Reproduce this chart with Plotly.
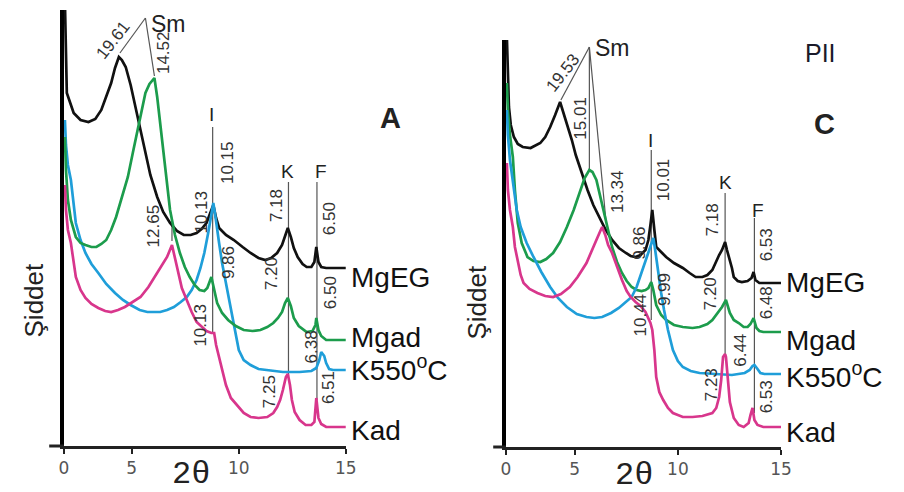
import plotly.graph_objects as go

# ---------------- data (2-theta in degrees, intensity in arbitrary units, stacked) ----------------
# Panel A
A_MgEG_x = [1.88,1.93,1.97,2.29,2.61,2.98,3.30,3.58,3.81,4.04,4.22,4.40,4.54,4.72,4.95,5.14,5.37,5.60,5.87,6.19,
            6.47,6.79,7.11,7.43,7.75,8.03,8.26,8.49,8.67,8.81,8.94,9.08,9.40,9.77,10.18,10.55,10.92,11.24,11.51,11.79,
            12.02,12.16,12.29,12.43,12.57,12.75,12.98,13.17,13.39,13.53,13.62,13.72,13.85,14.08,15.0]
A_MgEG_y = [445,386,353,333,326,324,327,336,349,363,378,389,386,379,361,343,321,296,271,249,
            234,223,215,211,211,213,217,223,233,241,228,218,211,206,199,193,188,186,188,193,
            201,209,218,209,198,189,182,179,179,184,199,184,179,178,178]

A_Mgad_x = [1.88,1.93,2.02,2.16,2.39,2.61,2.84,3.12,3.35,3.58,3.81,4.04,4.27,4.54,4.82,5.05,5.28,5.46,5.64,5.83,
            6.06,6.19,6.33,6.51,6.65,6.79,7.02,7.25,7.48,7.71,7.94,8.17,8.39,8.53,8.72,8.85,8.99,9.22,9.50,9.86,
            10.23,10.64,11.01,11.33,11.61,11.83,12.02,12.16,12.29,12.43,12.57,12.80,13.17,13.44,13.58,13.62,13.72,13.85,14.08,15.0]
A_Mgad_y = [309,276,246,226,209,203,201,199,199,202,206,216,229,248,269,293,316,336,353,362,
            368,349,321,286,259,236,211,193,179,169,161,156,155,158,169,156,143,133,126,120,
            116,115,116,119,123,128,134,143,148,140,128,120,114,115,121,128,116,110,106,106]

A_K550_x = [1.88,1.93,2.02,2.16,2.39,2.61,2.84,3.12,3.44,3.81,4.22,4.59,4.95,5.37,5.73,6.06,6.33,6.65,6.97,7.29,
            7.57,7.80,8.03,8.21,8.39,8.58,8.72,8.81,8.90,8.99,9.08,9.22,9.40,9.54,9.72,9.86,10.0,10.23,10.55,10.92,
            11.33,12.06,12.84,13.39,13.62,13.76,13.85,13.99,14.08,14.22,14.40,15.0]
A_K550_y = [326,301,281,266,223,206,193,182,173,162,153,146,141,136,134,134,134,136,139,144,
            149,156,166,178,193,214,233,243,231,214,203,183,163,144,126,110,96,86,81,77,
            76,74,74,75,78,86,94,90,83,77,76,76]

A_Kad_x = [1.88,1.93,2.02,2.16,2.39,2.61,2.84,3.12,3.44,3.76,4.04,4.36,4.68,5.05,5.41,5.78,6.19,6.42,6.65,6.88,
           7.02,7.16,7.34,7.57,7.80,8.03,8.26,8.49,8.72,8.85,8.94,9.08,9.22,9.40,9.63,9.95,10.23,10.55,10.92,11.33,
           11.61,11.79,11.93,12.06,12.20,12.29,12.39,12.48,12.61,12.84,13.12,13.39,13.53,13.62,13.72,13.85,14.08,15.0]
A_Kad_y = [261,236,216,203,169,156,148,142,138,135,134,136,139,144,149,159,173,181,189,201,
           188,174,158,146,134,124,119,115,113,113,101,89,74,61,48,40,33,29,28,29,
           33,39,46,56,69,72,61,46,34,26,21,21,24,48,28,22,19,19]

# Panel C
C_MgEG_x = [1.71,1.76,1.81,1.90,2.05,2.24,2.48,2.86,3.33,3.57,3.81,4.05,4.29,4.38,4.52,4.71,4.86,5.05,5.24,5.43,
            5.62,5.90,6.19,6.48,6.81,7.14,7.48,7.71,7.95,8.19,8.43,8.57,8.67,8.76,8.86,8.95,9.19,9.43,9.81,10.24,
            10.57,10.86,11.19,11.43,11.67,11.81,12.0,12.14,12.29,12.38,12.48,12.62,12.71,12.90,13.10,13.38,13.57,13.67,13.76,13.95,
            14.19,15.0]
C_MgEG_y = [410,372,340,322,310,303,300,299,304,310,320,332,345,339,330,317,307,292,280,267,
            257,242,230,218,207,199,194,191,190,192,197,207,222,237,217,200,195,190,184,179,
            174,170,170,172,177,184,192,197,205,197,190,179,170,166,165,166,169,175,167,164,
            164,164]

C_Mgad_x = [1.71,1.76,1.86,2.0,2.10,2.24,2.43,2.71,3.0,3.33,3.62,3.95,4.29,4.62,4.95,5.24,5.48,5.71,5.86,6.05,
            6.19,6.33,6.57,6.81,7.05,7.29,7.52,7.76,8.0,8.24,8.43,8.57,8.71,8.81,8.95,9.19,9.43,9.81,10.24,10.71,
            11.05,11.43,11.67,11.90,12.14,12.33,12.43,12.52,12.71,12.95,13.19,13.38,13.52,13.67,13.81,13.95,14.14,15.0]
C_Mgad_y = [364,337,312,290,257,224,204,190,186,185,188,194,205,220,237,254,269,277,275,267,
            255,240,220,200,185,174,166,160,157,156,157,159,165,157,142,132,127,122,120,119,
            120,123,127,133,140,147,141,134,127,124,120,120,123,129,119,116,115,115]

C_K550_x = [1.71,1.76,1.86,2.05,2.19,2.38,2.67,3.0,3.38,3.81,4.19,4.62,5.10,5.57,5.95,6.33,6.76,7.14,7.48,7.76,
            8.0,8.24,8.43,8.57,8.71,8.81,8.90,9.05,9.19,9.33,9.52,9.76,10.0,10.24,10.62,11.05,11.81,12.62,13.24,13.48,
            13.62,13.71,13.86,14.0,14.19,15.0]
C_K550_y = [337,312,287,257,237,220,204,190,175,160,149,140,133,130,129,130,134,139,145,150,
            160,174,185,194,203,209,197,172,154,137,117,97,86,80,76,74,73,72,74,77,
            81,82,78,74,73,73]

C_Kad_x = [1.71,1.76,1.86,2.0,2.10,2.24,2.38,2.52,2.81,3.19,3.57,3.95,4.33,4.76,5.14,5.57,5.86,6.05,6.24,6.33,
           6.48,6.62,6.81,7.05,7.29,7.52,7.71,7.95,8.19,8.43,8.57,8.67,8.76,8.86,8.95,9.10,9.29,9.52,9.76,10.24,
           10.71,11.19,11.67,11.86,12.0,12.10,12.19,12.29,12.33,12.43,12.52,12.71,12.95,13.19,13.43,13.52,13.62,13.71,13.86,14.14,
           15.0]
C_Kad_y = [284,257,237,220,200,184,172,164,158,154,151,150,153,160,170,184,197,207,216,220,
           212,202,194,180,167,156,150,145,141,135,129,124,117,97,70,55,47,39,34,30,
           30,31,34,39,50,67,90,93,90,67,45,29,22,20,24,32,39,27,22,20,
           20]

series_names = ["MgEG", "Mgad", "K550<sup>o</sup>C", "Kad"]
tick_vals_A = [1.835, 5, 10, 15]
tick_vals_C = [1.667, 5, 10, 15]
tick_text = ["0", "5", "10", "15"]

# d-spacing labels (text, 2theta, intensity, angle)
A_dlabels = [("19.61", 4.17, 406, -52), ("14.52", 6.51, 393, -90), ("12.65", 6.06, 220, -90),
             ("10.13", 8.26, 234, -90), ("10.15", 9.50, 283, -90), ("9.86", 9.50, 183, -90),
             ("10.13", 8.17, 121, -90), ("7.18", 11.79, 240, -90), ("7.20", 11.51, 172, -90),
             ("7.25", 11.42, 54, -90), ("6.50", 14.27, 227, -90), ("6.50", 14.27, 153, -90),
             ("6.38", 13.39, 99, -90), ("6.51", 14.17, 58, -90)]
C_dlabels = [("19.53", 4.43, 375, -52), ("15.01", 5.24, 329, -90), ("13.34", 7.05, 255, -90),
             ("9.86", 8.10, 204, -90), ("10.01", 9.29, 267, -90), ("9.99", 9.33, 157, -90),
             ("10.44", 8.14, 132, -90), ("7.18", 11.67, 227, -90), ("7.20", 11.57, 153, -90),
             ("7.23", 11.62, 62, -90), ("6.53", 14.29, 202, -90), ("6.48", 14.29, 144, -90),
             ("6.44", 13.00, 97, -90), ("6.53", 14.29, 50, -90)]
A_minerals = [("Sm", 6.74, 422), ("I", 8.72, 331), ("K", 12.29, 274), ("F", 13.85, 274)]
C_minerals = [("Sm", 6.81, 399), ("I", 8.67, 307), ("K", 12.29, 265), ("F", 13.90, 237)]
A_lines = [(5.64, 428, 4.45, 393), (5.64, 428, 6.06, 370), (6.88, 226, 6.88, 205),
           (8.78, 319, 8.78, 113), (12.32, 264, 12.32, 70), (13.65, 264, 13.65, 46)]
C_lines = [(5.71, 400, 4.33, 347), (5.71, 400, 5.71, 277), (5.71, 400, 6.52, 225),
           (8.71, 297, 8.71, 127), (12.29, 254, 12.29, 92), (13.71, 229, 13.71, 34)]
A_label_y = [169, 109, 78, 16]
C_label_y = [165, 107, 72, 15]

colors = ["#111111", "#1c9c4c", "#1f9ed9", "#d8368c"]

fig = go.Figure()

panelA = [(A_MgEG_x, A_MgEG_y), (A_Mgad_x, A_Mgad_y), (A_K550_x, A_K550_y), (A_Kad_x, A_Kad_y)]
panelC = [(C_MgEG_x, C_MgEG_y), (C_Mgad_x, C_Mgad_y), (C_K550_x, C_K550_y), (C_Kad_x, C_Kad_y)]
orderA = [0, 2, 1, 3]
orderC = [0, 1, 2, 3]
for i in orderA:
    fig.add_trace(go.Scatter(x=panelA[i][0], y=panelA[i][1], mode="lines",
                             line=dict(color=colors[i], width=2.7), xaxis="x", yaxis="y",
                             showlegend=False, hoverinfo="skip"))
for i in orderC:
    fig.add_trace(go.Scatter(x=panelC[i][0], y=panelC[i][1], mode="lines",
                             line=dict(color=colors[i], width=2.7), xaxis="x2", yaxis="y2",
                             showlegend=False, hoverinfo="skip"))

num_font = dict(family="Liberation Sans, Arial", size=17, color="#333333")
annotations = []
shapes = []
for (dl, mins, lines, lab_y, xr, yr) in [(A_dlabels, A_minerals, A_lines, A_label_y, "x", "y"),
                                         (C_dlabels, C_minerals, C_lines, C_label_y, "x2", "y2")]:
    for t, x, y, ang in dl:
        annotations.append(dict(text=t, x=x, y=y, xref=xr, yref=yr, showarrow=False,
                                textangle=ang, font=num_font, xanchor="center", yanchor="middle"))
    for t, x, y in mins:
        annotations.append(dict(text=t, x=x, y=y, xref=xr, yref=yr, showarrow=False,
                                font=dict(family="Liberation Sans, Arial", size=23 if t == "Sm" else 19, color="#222222"),
                                xanchor="center", yanchor="middle"))
    for x0, y0, x1, y1 in lines:
        shapes.append(dict(type="line", x0=x0, y0=y0, x1=x1, y1=y1, xref=xr, yref=yr,
                           line=dict(color="#555555", width=1.2), layer="below"))
    for name, y in zip(series_names, lab_y):
        annotations.append(dict(text=name, x=15, y=y, xref=xr, yref=yr, showarrow=False,
                                xanchor="left", yanchor="middle", xshift=3,
                                font=dict(family="Liberation Sans, Arial", size=28, color="#111111")))

# panel titles / axis titles
W, H = 904, 492
def px(x, y):
    return x / W, 1 - y / H

for (t, x, y, size, ang, fam) in [("<b>A</b>", 392, 118, 29, 0, "Liberation Sans"),
                                  ("<b>C</b>", 834, 124, 29, 0, "Liberation Sans"),
                                  ("PII", 830, 53, 25, 0, "Liberation Sans"),
                                  ("Şiddet", 30, 300, 26, -90, "Liberation Sans"),
                                  ("Şiddet", 480, 303, 26, -90, "Liberation Sans"),
                                  ("2θ", 189, 474, 32, 0, "Liberation Mono"),
                                  ("2θ", 640, 475, 32, 0, "Liberation Mono")]:
    xx, yy = px(x, y)
    annotations.append(dict(text=t, x=xx, y=yy, xref="paper", yref="paper", showarrow=False,
                            textangle=ang, xanchor="center", yanchor="middle",
                            font=dict(family=fam, size=size, color="#1a1a2a" if t == "PII" else "#222222")))

# small extensions of the x-axis line to the left of the y-axis
for xa, xb, yv in [(45, 60, 446), (497, 510, 447)]:
    x0, y0 = px(xa, yv)
    x1, _ = px(xb, yv)
    shapes.append(dict(type="line", xref="paper", yref="paper", x0=x0, x1=x1, y0=y0, y1=y0,
                       line=dict(color="#222222", width=3)))

xcommon = dict(showgrid=False, zeroline=False, showline=True, linecolor="#222222", linewidth=3,
               ticks="outside", ticklen=5, tickwidth=2, tickcolor="#222222", ticktext=tick_text,
               tickfont=dict(family="DejaVu Sans", size=17, color="#555555"), layer="below traces")
ycommon = dict(showgrid=False, zeroline=False, showline=True, linecolor="#000000", linewidth=4,
               showticklabels=False, ticks="", layer="below traces")

fig.update_layout(
    width=W, height=H, margin=dict(l=0, r=0, t=0, b=0),
    paper_bgcolor="white", plot_bgcolor="white", showlegend=False,
    xaxis=dict(domain=[60 / W, 347 / W], range=[1.835, 15], tickvals=tick_vals_A, anchor="y", **xcommon),
    yaxis=dict(domain=[1 - 446 / H, 1 - 10 / H], range=[0, 436], anchor="x", **ycommon),
    xaxis2=dict(domain=[510 / W, 790 / W], range=[1.667, 15], tickvals=tick_vals_C, anchor="y2", **xcommon),
    yaxis2=dict(domain=[1 - 447 / H, 1 - 40 / H], range=[0, 407], anchor="x2", **ycommon),
    annotations=annotations, shapes=shapes,
)

fig.write_html("out.html", config={"displayModeBar": False},
               post_script="document.body.style.margin='0px';document.body.style.overflow='hidden';")
